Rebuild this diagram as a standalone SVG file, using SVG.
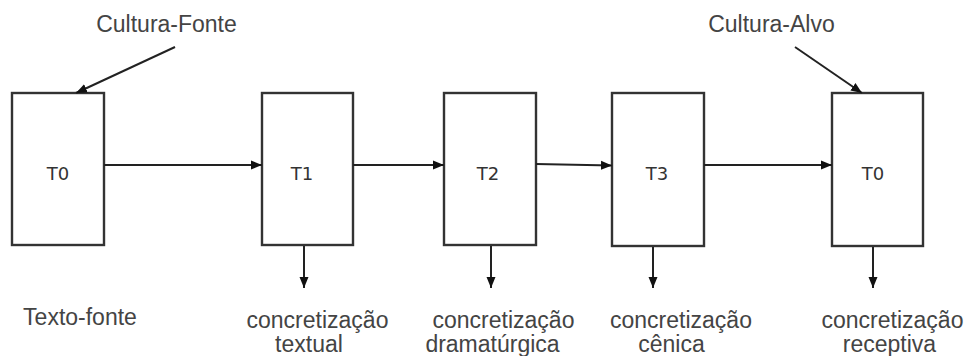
<svg xmlns="http://www.w3.org/2000/svg" width="970" height="356" viewBox="0 0 970 356">
<style>
.box{fill:#fff;stroke:#333;stroke-width:2.4}
.lbl{font-family:"DejaVu Sans",sans-serif;font-size:18px;fill:#333;text-anchor:middle}
.txt{font-family:"Liberation Sans",Arial,sans-serif;font-size:23px;fill:#444;text-anchor:middle}
.edge{stroke:#222;stroke-width:2;fill:none;marker-end:url(#ah)}
</style>
<defs>
<marker id="ah" markerUnits="userSpaceOnUse" markerWidth="12" markerHeight="12" viewBox="0 0 12 12" refX="11" refY="6" orient="auto">
<path d="M0,1.5 L11,6 L0,10.5 Z" fill="#111"/>
</marker>
</defs>
<rect width="970" height="356" fill="#fff"/>
<g id="n-t0a"><rect class="box" x="12" y="93" width="92" height="152"/><text class="lbl" x="58" y="180">T0</text></g>
<g id="n-t1"><rect class="box" x="262" y="93" width="91" height="152"/><text class="lbl" x="302" y="180">T1</text></g>
<g id="n-t2"><rect class="box" x="444" y="93" width="92" height="152"/><text class="lbl" x="488" y="180">T2</text></g>
<g id="n-t3"><rect class="box" x="612" y="93" width="92" height="153"/><text class="lbl" x="657" y="180">T3</text></g>
<g id="n-t0b"><rect class="box" x="832" y="93" width="91" height="153"/><text class="lbl" x="873" y="180">T0</text></g>
<g id="n-cf"><text class="txt" x="166.5" y="32">Cultura-Fonte</text></g>
<g id="n-ca"><text class="txt" x="771.5" y="32">Cultura-Alvo</text></g>
<g id="n-l0"><text class="txt" x="80" y="325">Texto-fonte</text></g>
<g id="n-l1"><text class="txt"><tspan x="317.5" y="328">concretização</tspan><tspan x="309" y="352">textual</tspan></text></g>
<g id="n-l2"><text class="txt"><tspan x="503.5" y="328">concretização</tspan><tspan x="492.5" y="352">dramatúrgica</tspan></text></g>
<g id="n-l3"><text class="txt"><tspan x="681" y="328">concretização</tspan><tspan x="671.5" y="352">cênica</tspan></text></g>
<g id="n-l4"><text class="txt"><tspan x="892.5" y="328">concretização</tspan><tspan x="889.5" y="352">receptiva</tspan></text></g>
<g id="connectors">
<line class="edge" x1="104" y1="165" x2="262" y2="165"/>
<line class="edge" x1="353" y1="165" x2="444" y2="165"/>
<line class="edge" x1="536" y1="164" x2="612" y2="165.5"/>
<line class="edge" x1="704" y1="165" x2="832" y2="165"/>
<line class="edge" x1="175" y1="47" x2="76" y2="93"/>
<line class="edge" x1="795" y1="47" x2="862" y2="93"/>
<line class="edge" x1="304" y1="246" x2="304" y2="288"/>
<line class="edge" x1="491" y1="246" x2="491" y2="288"/>
<line class="edge" x1="653" y1="247" x2="653" y2="288"/>
<line class="edge" x1="873" y1="247" x2="873" y2="288"/>
</g>
</svg>
